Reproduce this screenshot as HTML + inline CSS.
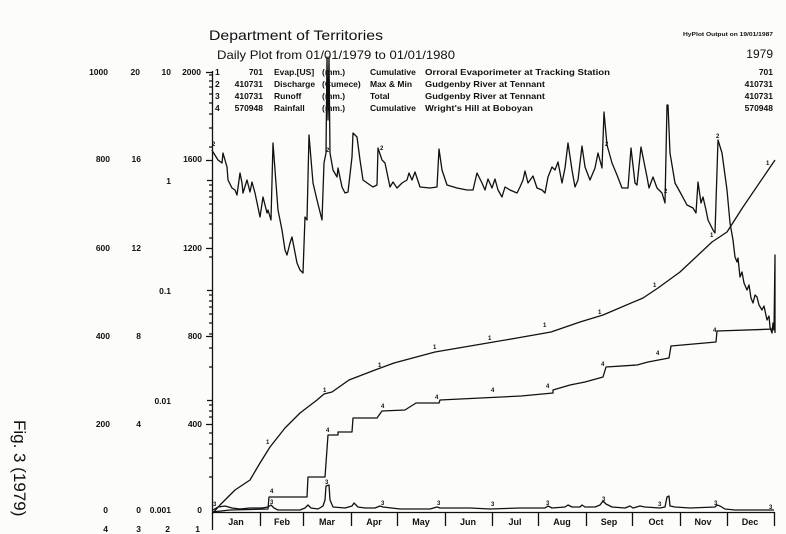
<!DOCTYPE html>
<html><head><meta charset="utf-8"><style>
html,body{margin:0;padding:0;background:#fcfcfb;}
svg{display:block;}
text{font-family:"Liberation Sans",sans-serif;fill:#111;}
.b{font-weight:bold;font-size:8.5px;}
.l{font-weight:bold;font-size:8.5px;}
.m{font-weight:bold;font-size:9px;}
.t{font-size:6px;font-weight:bold;}
</style></head><body>
<svg width="786" height="534" viewBox="0 0 786 534" xmlns="http://www.w3.org/2000/svg">
<rect width="786" height="534" fill="#fcfcfb"/>
<!-- headings -->
<text x="209" y="40" font-size="14" textLength="174" lengthAdjust="spacingAndGlyphs">Department of Territories</text>
<text x="217" y="59" font-size="12" textLength="238" lengthAdjust="spacingAndGlyphs">Daily Plot from 01/01/1979 to 01/01/1980</text>
<text x="683" y="36" font-size="5" font-weight="bold" textLength="90" lengthAdjust="spacingAndGlyphs">HyPlot Output on 19/01/1987</text>
<text x="773" y="58" font-size="12" text-anchor="end">1979</text>

<!-- legend -->
<g class="l">
<text x="215" y="75">1</text><text x="263" y="75" text-anchor="end">701</text><text x="274" y="75">Evap.[US]</text><text x="322" y="75">(mm.)</text><text x="370" y="75">Cumulative</text><text x="425" y="75" textLength="185" lengthAdjust="spacingAndGlyphs">Orroral Evaporimeter at Tracking Station</text><text x="773" y="75" text-anchor="end">701</text>
<text x="215" y="87">2</text><text x="263" y="87" text-anchor="end">410731</text><text x="274" y="87">Discharge</text><text x="322" y="87">(Cumece)</text><text x="370" y="87">Max &amp; Min</text><text x="425" y="87" textLength="120" lengthAdjust="spacingAndGlyphs">Gudgenby River at Tennant</text><text x="773" y="87" text-anchor="end">410731</text>
<text x="215" y="99">3</text><text x="263" y="99" text-anchor="end">410731</text><text x="274" y="99">Runoff</text><text x="322" y="99">(mm.)</text><text x="370" y="99">Total</text><text x="425" y="99" textLength="120" lengthAdjust="spacingAndGlyphs">Gudgenby River at Tennant</text><text x="773" y="99" text-anchor="end">410731</text>
<text x="215" y="111">4</text><text x="263" y="111" text-anchor="end">570948</text><text x="274" y="111">Rainfall</text><text x="322" y="111">(mm.)</text><text x="370" y="111">Cumulative</text><text x="425" y="111" textLength="108" lengthAdjust="spacingAndGlyphs">Wright's Hill at Boboyan</text><text x="773" y="111" text-anchor="end">570948</text>
</g>

<!-- left axis labels -->
<g class="b" text-anchor="end">
<text x="108" y="75">1000</text><text x="140" y="75">20</text><text x="171" y="75">10</text><text x="201" y="75">2000</text>
<text x="110" y="162">800</text><text x="141" y="162">16</text><text x="202" y="162">1600</text>
<text x="171" y="184">1</text>
<text x="110" y="251">600</text><text x="141" y="251">12</text><text x="202" y="251">1200</text>
<text x="171" y="294">0.1</text>
<text x="110" y="339">400</text><text x="141" y="339">8</text><text x="202" y="339">800</text>
<text x="171" y="404">0.01</text>
<text x="110" y="427">200</text><text x="141" y="427">4</text><text x="202" y="427">400</text>
<text x="108" y="513">0</text><text x="141" y="513">0</text><text x="171" y="513">0.001</text><text x="202" y="513">0</text>
<text x="108" y="532">4</text><text x="141" y="532">3</text><text x="170" y="532">2</text><text x="200" y="532">1</text>
</g>

<!-- handwritten side note -->
<text x="0" y="0" font-size="17" font-family="'Liberation Sans',sans-serif" fill="#333" transform="translate(14,420) rotate(90)">Fig. 3 (1979)</text>

<!-- axis -->
<g stroke="#111" stroke-width="1.3" fill="none">
<line x1="212.5" y1="71" x2="212.5" y2="530"/>
<line x1="212" y1="512.5" x2="775" y2="512.5"/>
<path d="M206 72.5H213 M206 160.5H213 M206 248.5H213 M206 336.5H213 M206 424.5H213
M207 180.5H213 M207 290.5H213 M207 400.5H213
M209 75H213 M209 81H213 M209 87H213 M209 94H213 M209 103H213 M209 114H213 M209 128H213 M209 147H213
M209 185H213 M209 191H213 M209 197H213 M209 204H213 M209 213H213 M209 224H213 M209 238H213 M209 257H213
M209 295H213 M209 301H213 M209 307H213 M209 314H213 M209 323H213 M209 334H213 M209 348H213 M209 367H213
M209 405H213 M209 411H213 M209 417H213 M209 433H213 M209 444H213 M209 458H213 M209 477H213"/>
<path d="M260.5 512V526 M303.5 512V526 M351.5 512V526 M397.5 512V526 M445.5 512V526 M492.5 512V526 M538.5 512V526 M586.5 512V526 M632.5 512V526 M680.5 512V526 M727.5 512V526 M774.5 512V526"/>
</g>
<g class="m" text-anchor="middle">
<text x="236" y="525">Jan</text><text x="282" y="525">Feb</text><text x="327" y="525">Mar</text><text x="374" y="525">Apr</text><text x="421" y="525">May</text><text x="468" y="525">Jun</text><text x="515" y="525">Jul</text><text x="562" y="525">Aug</text><text x="609" y="525">Sep</text><text x="656" y="525">Oct</text><text x="703" y="525">Nov</text><text x="750" y="525">Dec</text>
</g>

<!-- series -->
<g stroke="#111" stroke-width="1.3" fill="none" stroke-linejoin="round">
<!-- 2 discharge -->
<polyline points="212,150 213,152 218,160 222,163 223,153 227,167 228,180 232,188 235,190 237,195 240,173 242,183 243,193 247,180 250,192 252,182 255,193 260,217 263,197 267,213 268,210 271,220 273,143 275,170 278,210 282,230 285,250 287,255 290,243 292,237 297,263 300,270 303,273 305,217 307,220 309,135 313,183 317,200 322,220 324,163 326,153 327,57 328,120 329,57 330,153 333,170 337,177 338,168 342,187 345,193 348,192 352,157 353,133 357,137 360,160 363,180 370,185 373,187 377,185 378,148 382,160 385,163 390,187 393,182 397,188 402,183 407,180 409,173 412,180 415,172 420,187 430,188 437,187 439,149 442,170 447,185 457,188 467,190 473,190 477,173 482,183 485,190 488,179 492,188 495,179 498,190 502,197 505,187 510,190 517,193 520,187 523,180 525,171 528,183 533,176 537,188 542,190 545,193 548,177 552,167 555,170 558,162 562,183 565,168 568,143 572,170 575,187 578,180 582,146 585,167 590,180 595,168 598,153 602,168 604,112 607,145 612,163 617,175 622,188 628,188 631,148 635,183 637,185 641,147 647,177 649,188 653,177 657,188 662,193 665,203 667,105 668,105 670,153 675,183 680,192 687,205 693,208 696,213 698,182 701,203 703,197 706,210 708,220 713,230 715,233 718,140 722,153 727,190 730,223 733,240 735,257 737,262 738,258 740,277 742,272 744,283 747,290 749,285 751,298 753,303 755,295 757,297 759,305 762,310 764,306 767,320 769,316 770,327 772,333 773,323 774,330 775,255 775,333"/>
<!-- 1 evap cumulative -->
<polyline points="212,514 220,505 235,490 250,480 260,463 270,447 285,428 300,413 317,400 324,394 332,392 349,380 375,370 394,363 435,352 476,345 517,338 551,332 580,322 603,315 643,298 658,288 680,272 712,242 727,232 743,207 775,160"/>
<!-- 4 rainfall cumulative -->
<polyline points="212,512 230,510 268,509 269,497 307,497 308,477 325,477 328,435 338,435 338,432 352,432 353,418 377,418 382,411 405,410 416,403 439,403 440,400 521,396 553,393 553,390 570,385 585,382 603,377 606,367 637,365 648,362 669,358 671,346 716,342 717,331 775,329"/>
<!-- 3 runoff -->
<polyline points="213,510 218,507 225,506 232,508 240,509 250,508 262,508 268,507 271,505 274,508 278,510 300,510 305,508 308,505 311,508 318,509 323,506 325,500 326,486 329,485 330,500 333,507 345,508 352,506 354,503 358,507 365,508 375,508 380,506 383,507 400,509 430,509 437,507 440,508 470,508 490,509 520,508 545,508 548,506 552,508 565,507 568,505 572,507 580,507 582,505 585,507 595,507 600,505 603,501 606,504 612,507 625,508 630,506 633,508 640,506 645,507 660,508 665,507 667,497 669,496 670,506 675,507 690,508 715,507 717,505 720,506 725,509 735,510 774,510"/>
</g>

<!-- curve markers -->
<g class="t">
<text x="212" y="146">2</text><text x="326" y="152">2</text><text x="380" y="150">2</text><text x="605" y="146">2</text><text x="664" y="193">2</text><text x="716" y="138">2</text>
<text x="266" y="444">1</text><text x="323" y="392">1</text><text x="378" y="367">1</text><text x="433" y="349">1</text><text x="488" y="340">1</text><text x="543" y="327">1</text><text x="598" y="314">1</text><text x="653" y="287">1</text><text x="710" y="237">1</text><text x="766" y="165">1</text>
<text x="270" y="493">4</text><text x="326" y="432">4</text><text x="381" y="408">4</text><text x="435" y="399">4</text><text x="491" y="392">4</text><text x="546" y="388">4</text><text x="601" y="366">4</text><text x="656" y="355">4</text><text x="713" y="332">4</text>
<text x="213" y="506">3</text><text x="270" y="504">3</text><text x="325" y="484">3</text><text x="381" y="505">3</text><text x="437" y="505">3</text><text x="491" y="506">3</text><text x="546" y="505">3</text><text x="602" y="501">3</text><text x="658" y="506">3</text><text x="714" y="505">3</text><text x="769" y="509">3</text>
</g>
</svg>
</body></html>
